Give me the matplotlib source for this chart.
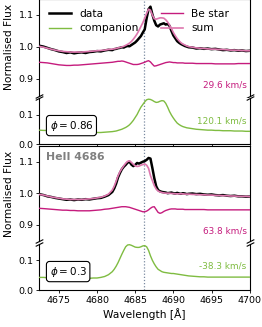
import matplotlib
matplotlib.use("Agg")
import matplotlib.pyplot as plt

# ---------------- data ----------------
wavelength = [4672.4, 4673.0, 4673.5, 4674.0, 4674.5, 4675.0, 4675.5, 4676.0, 4676.5, 4677.0,
              4677.5, 4678.0, 4678.5, 4679.0, 4679.5, 4680.0, 4680.5, 4681.0, 4681.5, 4682.0,
              4682.25, 4682.5, 4682.75, 4683.0, 4683.25, 4683.5, 4683.75, 4684.0, 4684.25, 4684.5,
              4684.75, 4685.0, 4685.25, 4685.5, 4685.75, 4686.0, 4686.25, 4686.5, 4686.75, 4687.0,
              4687.25, 4687.5, 4687.75, 4688.0, 4688.25, 4688.5, 4688.75, 4689.0, 4689.25, 4689.5,
              4689.75, 4690.0, 4690.25, 4690.5, 4690.75, 4691.0, 4691.25, 4691.5, 4691.75, 4692.0,
              4692.5, 4693.0, 4693.5, 4694.0, 4694.5, 4695.0, 4695.5, 4696.0, 4696.5, 4697.0,
              4697.5, 4698.0, 4698.5, 4699.0, 4699.5, 4700.0]

# phase 0.86
p086_data = [1.004, 1.001, 0.997, 0.993, 0.990, 0.986, 0.984, 0.981, 0.983, 0.980,
             0.982, 0.983, 0.981, 0.984, 0.985, 0.987, 0.986, 0.989, 0.991, 0.990,
             0.993, 0.994, 0.996, 0.997, 0.999, 0.998, 1.001, 1.003, 1.002, 1.006,
             1.010, 1.014, 1.020, 1.027, 1.034, 1.045, 1.055, 1.090, 1.118, 1.126,
             1.102, 1.082, 1.068, 1.064, 1.070, 1.072, 1.074, 1.070, 1.072, 1.066,
             1.050, 1.036, 1.027, 1.018, 1.013, 1.009, 1.006, 1.003, 1.001, 0.999,
             0.998, 0.995, 0.996, 0.994, 0.995, 0.993, 0.994, 0.992, 0.990, 0.991,
             0.989, 0.990, 0.988, 0.989, 0.987, 0.988]
p086_sum = [1.002, 0.999, 0.996, 0.993, 0.990, 0.988, 0.986, 0.985, 0.984, 0.984,
            0.984, 0.984, 0.985, 0.986, 0.987, 0.988, 0.989, 0.990, 0.992, 0.993,
            0.994, 0.995, 0.997, 0.998, 1.000, 1.002, 1.005, 1.008, 1.012, 1.017,
            1.024, 1.032, 1.041, 1.052, 1.064, 1.076, 1.090, 1.105, 1.118, 1.115,
            1.100, 1.088, 1.087, 1.089, 1.091, 1.091, 1.090, 1.085, 1.078, 1.068,
            1.057, 1.045, 1.035, 1.026, 1.019, 1.013, 1.009, 1.006, 1.003, 1.001,
            0.999, 0.997, 0.996, 0.995, 0.994, 0.993, 0.993, 0.992, 0.992, 0.991,
            0.990, 0.990, 0.989, 0.989, 0.988, 0.988]
p086_be = [0.952, 0.951, 0.950, 0.948, 0.946, 0.944, 0.943, 0.942, 0.942, 0.943,
           0.943, 0.944, 0.945, 0.946, 0.947, 0.948, 0.949, 0.950, 0.951, 0.952,
           0.953, 0.954, 0.955, 0.955, 0.956, 0.955, 0.953, 0.951, 0.949, 0.947,
           0.945, 0.945, 0.945, 0.946, 0.948, 0.950, 0.952, 0.955, 0.957, 0.953,
           0.946, 0.940, 0.941, 0.943, 0.945, 0.947, 0.949, 0.951, 0.952, 0.953,
           0.952, 0.951, 0.951, 0.950, 0.950, 0.950, 0.950, 0.949, 0.949, 0.949,
           0.949, 0.948, 0.948, 0.948, 0.948, 0.948, 0.947, 0.947, 0.947, 0.947,
           0.947, 0.947, 0.948, 0.948, 0.948, 0.948]
p086_comp = [0.047, 0.046, 0.046, 0.045, 0.045, 0.044, 0.044, 0.043, 0.043, 0.042,
             0.042, 0.041, 0.041, 0.040, 0.040, 0.039, 0.039, 0.040, 0.041, 0.042,
             0.043, 0.044, 0.046, 0.048, 0.050, 0.053, 0.056, 0.060, 0.065, 0.072,
             0.080, 0.090, 0.100, 0.113, 0.125, 0.134, 0.143, 0.150, 0.152, 0.151,
             0.148, 0.144, 0.141, 0.142, 0.145, 0.147, 0.146, 0.138, 0.125, 0.110,
             0.098, 0.088, 0.079, 0.071, 0.066, 0.062, 0.059, 0.057, 0.055, 0.054,
             0.052, 0.050, 0.049, 0.048, 0.047, 0.047, 0.046, 0.046, 0.045, 0.045,
             0.045, 0.044, 0.044, 0.044, 0.043, 0.043]

# phase 0.3
p03_data = [0.997, 0.994, 0.990, 0.988, 0.985, 0.983, 0.981, 0.979, 0.980, 0.978,
            0.980, 0.979, 0.981, 0.980, 0.982, 0.984, 0.985, 0.989, 0.994, 1.004,
            1.015, 1.030, 1.050, 1.064, 1.076, 1.084, 1.090, 1.097, 1.100, 1.091,
            1.086, 1.090, 1.096, 1.094, 1.097, 1.100, 1.102, 1.106, 1.112, 1.110,
            1.080, 1.048, 1.022, 1.010, 1.006, 1.004, 1.003, 1.002, 1.000, 1.001,
            1.002, 1.000, 0.999, 1.001, 0.999, 0.998, 1.000, 0.999, 0.997, 0.998,
            0.999, 0.997, 0.998, 0.996, 0.995, 0.996, 0.994, 0.993, 0.994, 0.992,
            0.991, 0.992, 0.990, 0.990, 0.989, 0.989]
p03_sum = [0.996, 0.994, 0.991, 0.988, 0.986, 0.984, 0.982, 0.981, 0.980, 0.980,
           0.980, 0.980, 0.981, 0.982, 0.983, 0.985, 0.987, 0.991, 0.997, 1.010,
           1.022, 1.038, 1.055, 1.068, 1.078, 1.087, 1.095, 1.101, 1.103, 1.098,
           1.092, 1.087, 1.085, 1.086, 1.089, 1.091, 1.093, 1.089, 1.079, 1.056,
           1.040, 1.024, 1.013, 1.007, 1.004, 1.002, 1.001, 1.000, 1.000, 1.000,
           0.999, 0.999, 0.998, 0.998, 0.998, 0.998, 0.998, 0.997, 0.997, 0.997,
           0.996, 0.996, 0.995, 0.995, 0.994, 0.994, 0.993, 0.993, 0.992, 0.992,
           0.991, 0.991, 0.990, 0.990, 0.990, 0.989]
p03_be = [0.952, 0.951, 0.950, 0.949, 0.948, 0.947, 0.946, 0.946, 0.945, 0.945,
          0.944, 0.944, 0.944, 0.944, 0.945, 0.946, 0.947, 0.949, 0.950, 0.952,
          0.953, 0.954, 0.955, 0.956, 0.957, 0.957, 0.957, 0.956, 0.955, 0.953,
          0.951, 0.949, 0.947, 0.945, 0.943, 0.941, 0.941, 0.943, 0.947, 0.952,
          0.956, 0.957, 0.948, 0.939, 0.936, 0.938, 0.942, 0.945, 0.947, 0.949,
          0.950, 0.950, 0.950, 0.949, 0.949, 0.949, 0.949, 0.948, 0.948, 0.948,
          0.948, 0.948, 0.948, 0.948, 0.947, 0.947, 0.947, 0.947, 0.947, 0.947,
          0.947, 0.947, 0.947, 0.947, 0.947, 0.947]
p03_comp = [0.043, 0.043, 0.042, 0.042, 0.042, 0.042, 0.041, 0.041, 0.041, 0.041,
            0.041, 0.040, 0.040, 0.040, 0.041, 0.041, 0.043, 0.046, 0.052, 0.062,
            0.070, 0.080, 0.092, 0.106, 0.120, 0.133, 0.145, 0.151, 0.152, 0.150,
            0.147, 0.144, 0.143, 0.143, 0.145, 0.148, 0.149, 0.145, 0.133, 0.115,
            0.100, 0.088, 0.078, 0.070, 0.066, 0.062, 0.060, 0.059, 0.058, 0.057,
            0.056, 0.056, 0.055, 0.054, 0.053, 0.052, 0.051, 0.050, 0.049, 0.048,
            0.047, 0.046, 0.045, 0.045, 0.044, 0.044, 0.044, 0.044, 0.044, 0.044,
            0.044, 0.044, 0.044, 0.044, 0.044, 0.044]

line_centre = 4686.2
phases = ["0.86", "0.3"]
be_rv = ["29.6 km/s", "63.8 km/s"]
comp_rv = ["120.1 km/s", "-38.3 km/s"]
x_ticks = [4675, 4680, 4685, 4690, 4695, 4700]
title = "HeII 4686"

# ---------------- style ----------------
C_BE = "#c51b7d"
C_SUM = "#de77ae"
C_COMP = "#7fbc41"
C_VLINE = "#7a8aa0"
FS_TICK = 6.8
FS_LAB = 7.7
FS_ANN = 6.4

W, H = 262.0, 327.0
fig = plt.figure(figsize=(W / 100, H / 100), dpi=100)

def rect(top_px, bot_px, left_px=39.0, right_px=249.7):
    return [left_px / W, 1 - bot_px / H, (right_px - left_px) / W, (bot_px - top_px) / H]

ax_a1 = fig.add_axes(rect(-1.0, 95.5))
ax_a2 = fig.add_axes(rect(98.0, 144.0))
ax_b1 = fig.add_axes(rect(146.0, 241.0))
ax_b2 = fig.add_axes(rect(243.5, 290.3))

panels = [
    (ax_a1, ax_a2, p086_data, p086_sum, p086_be, p086_comp, phases[0], be_rv[0], comp_rv[0]),
    (ax_b1, ax_b2, p03_data, p03_sum, p03_be, p03_comp, phases[1], be_rv[1], comp_rv[1]),
]

handles = {}
for i, (up, lo, dat, sm, be, cp, ph, brv, crv) in enumerate(panels):
    h_d, = up.plot(wavelength, dat, color="black", lw=1.8, label="data", zorder=2)
    h_s, = up.plot(wavelength, sm, color=C_SUM, lw=1.2, label="sum", zorder=3)
    h_b, = up.plot(wavelength, be, color=C_BE, lw=1.0, label="Be star", zorder=3)
    h_c, = lo.plot(wavelength, cp, color=C_COMP, lw=1.0, label="companion", zorder=3)
    if i == 0:
        handles = dict(data=h_d, sum=h_s, be=h_b, comp=h_c)

    for ax in (up, lo):
        ax.axvline(line_centre, color=C_VLINE, ls=(0, (1, 1.5)), lw=0.9, zorder=1)
        ax.set_xlim(4672.4, 4700)
        ax.set_xticks(x_ticks)
        ax.tick_params(labelsize=FS_TICK, length=2.5, width=0.6, pad=1.5)
        for s in ax.spines.values():
            s.set_linewidth(0.8)

    up.set_ylim(0.848, 1.15)
    up.set_yticks([0.9, 1.0, 1.1])
    lo.set_ylim(0.0, 0.156)
    lo.set_yticks([0.0, 0.1])

    up.spines["bottom"].set_visible(False)
    lo.spines["top"].set_visible(False)
    up.tick_params(axis="x", bottom=False, labelbottom=False)
    if i == 0:
        lo.tick_params(axis="x", labelbottom=False)
    else:
        lo.set_xlabel("Wavelength [Å]", fontsize=FS_LAB, labelpad=2)

    up.set_ylabel("Normalised Flux", fontsize=FS_LAB, labelpad=3)

    # break markers
    d = 0.5
    kw = dict(marker=[(-1, -d), (1, d)], markersize=5.5, linestyle="none",
              color="k", mec="k", mew=0.8, clip_on=False)
    up.plot([0, 1], [0, 0], transform=up.transAxes, **kw)
    lo.plot([0, 1], [1, 1], transform=lo.transAxes, **kw)

    up.text(0.985, 0.11, brv, transform=up.transAxes, ha="right", va="center",
            color=C_BE, fontsize=FS_ANN)
    lo.text(0.985, 0.51, crv, transform=lo.transAxes, ha="right", va="center",
            color=C_COMP, fontsize=FS_ANN)
    lo.text(0.05, 0.40, r"$\phi = " + ph + "$", transform=lo.transAxes, ha="left",
            va="center", fontsize=7.5,
            bbox=dict(boxstyle="round,pad=0.3", fc="white", ec="black", lw=0.8))

ax_b1.text(0.032, 0.887, title, transform=ax_b1.transAxes, ha="left", va="center",
           fontsize=7.8, fontweight="bold", color="#808080")

ax_a1.legend([handles["data"], handles["comp"], handles["be"], handles["sum"]],
             ["data", "companion", "Be star", "sum"], ncol=2, loc="upper left",
             frameon=False, fontsize=FS_LAB, handlelength=2.1, handletextpad=0.75,
             columnspacing=2.1, labelspacing=0.45)

fig.savefig("out.png", dpi=100)
